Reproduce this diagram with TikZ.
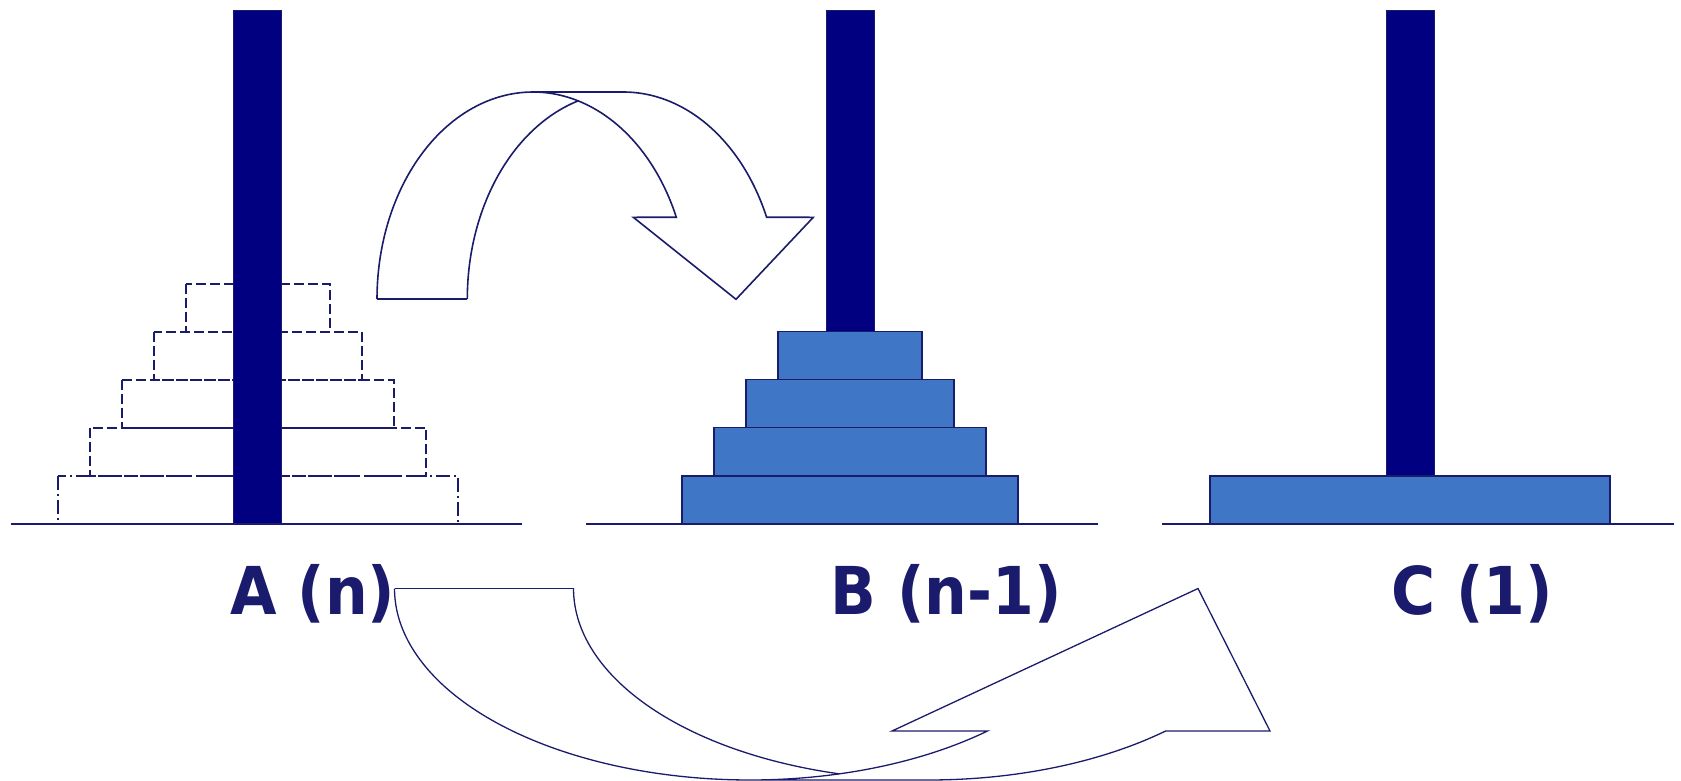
\documentclass[tikz,border=0pt]{standalone}
\usepackage{fontspec}
\usepackage{graphicx}
\newfontfamily\labfont{DejaVu Sans}[BoldFont={DejaVu Sans Bold}]
\definecolor{pegc}{HTML}{000080}
\definecolor{linec}{HTML}{1B1B6B}
\definecolor{diskc}{HTML}{3F77C6}
\definecolor{textc}{HTML}{1B1B6E}
\begin{document}
\begin{tikzpicture}[x=1pt,y=-1pt,
  peg/.style={fill=pegc,draw=linec,line width=0.8pt},
  ghost/.style={draw=linec,line width=1.6pt,dash pattern=on 10pt off 4pt},
  ghostb/.style={draw=linec,line width=1.6pt,dash pattern=on 14pt off 4pt on 2pt off 4pt},
  disk/.style={fill=diskc,draw=linec,line width=1.5pt},
  base/.style={draw=linec,line width=2pt},
  arr/.style={draw=linec,line width=1.6pt,line join=miter},
  arrb/.style={draw=linec,line width=1.3pt,line join=miter},
  lab/.style={text=textc,anchor=base,inner sep=0pt,font=\labfont\bfseries\fontsize{66}{72}\selectfont}]
\useasboundingbox (0,0) rectangle (1681,781);
% ---- Peg A with ghost disks
\draw[ghostb] (58,476) rectangle (458,524);
\draw[ghost] (90,427.7) rectangle (426,476);
\draw[ghost] (122,379.7) rectangle (394,427.7);
\draw[ghost] (154,331.7) rectangle (362,379.7);
\draw[ghost] (186,283.7) rectangle (330,331.7);
\path[peg] (233.8,10.7) rectangle (281.8,524);
% ---- Peg B
\path[peg] (826,10.7) rectangle (874,331.7);
\path[disk] (682,476) rectangle (1018,524);
\path[disk] (714,427.7) rectangle (986,476);
\path[disk] (746,379.7) rectangle (954,427.7);
\path[disk] (778,331.7) rectangle (922,379.7);
% ---- Peg C
\path[peg] (1386,10.7) rectangle (1434,476);
\path[disk] (1210,476) rectangle (1610,524);
% ---- base lines
\coordinate (a1) at (10.7,524); \coordinate (a2) at (522,524);
\coordinate (b1) at (586.4,524); \coordinate (b2) at (1097.8,524);
\coordinate (c1) at (1162,524); \coordinate (c2) at (1673.5,524);
\draw[base] (a1) -- (a2);
\draw[base] (b1) -- (b2);
\draw[base] (c1) -- (c2);
% ---- labels
\node[lab] (la) at (312.9,614) {\scalebox{0.91}[1]{A (n)}};
\node[lab] (lb) at (946.2,614) {\scalebox{0.91}[1]{B (n-1)}};
\node[lab] (lc) at (1472,614) {\scalebox{0.91}[1]{C (1)}};
% ---- top curved arrow
\draw[arr] (377,299) -- (467.3,299);
\draw[arr] plot[domain=180:270,samples=60] ({533+156*cos(\x)},{299+207*sin(\x)})
  -- plot[domain=270:336.75,samples=60] ({623.3+156*cos(\x)},{299+207*sin(\x)})
  -- (813.3,217.3) -- (736,299.3) -- (633.3,217.3)
  -- plot[domain=336.75:270,samples=60] ({533+156*cos(\x)},{299+207*sin(\x)});
\draw[arr] plot[domain=180:253.18,samples=60] ({623.3+156*cos(\x)},{299+207*sin(\x)});
% ---- bottom curved arrow
\draw[arrb] (394.5,588.5) -- (573.5,588.5);
\draw[arrb] plot[domain=180:90,samples=80] ({750+355.5*cos(\x)},{588.5+191.5*sin(\x)})
  -- plot[domain=90:48.08,samples=60] ({928.5+355*cos(\x)},{588.5+191.5*sin(\x)})
  -- (1270,731) -- (1198,588.5) -- (892,731)
  -- plot[domain=48.08:90,samples=60] ({750+355.5*cos(\x)},{588.5+191.5*sin(\x)});
\draw[arrb] plot[domain=180:104.56,samples=60] ({928.5+355*cos(\x)},{588.5+191.5*sin(\x)});
\end{tikzpicture}
\end{document}
